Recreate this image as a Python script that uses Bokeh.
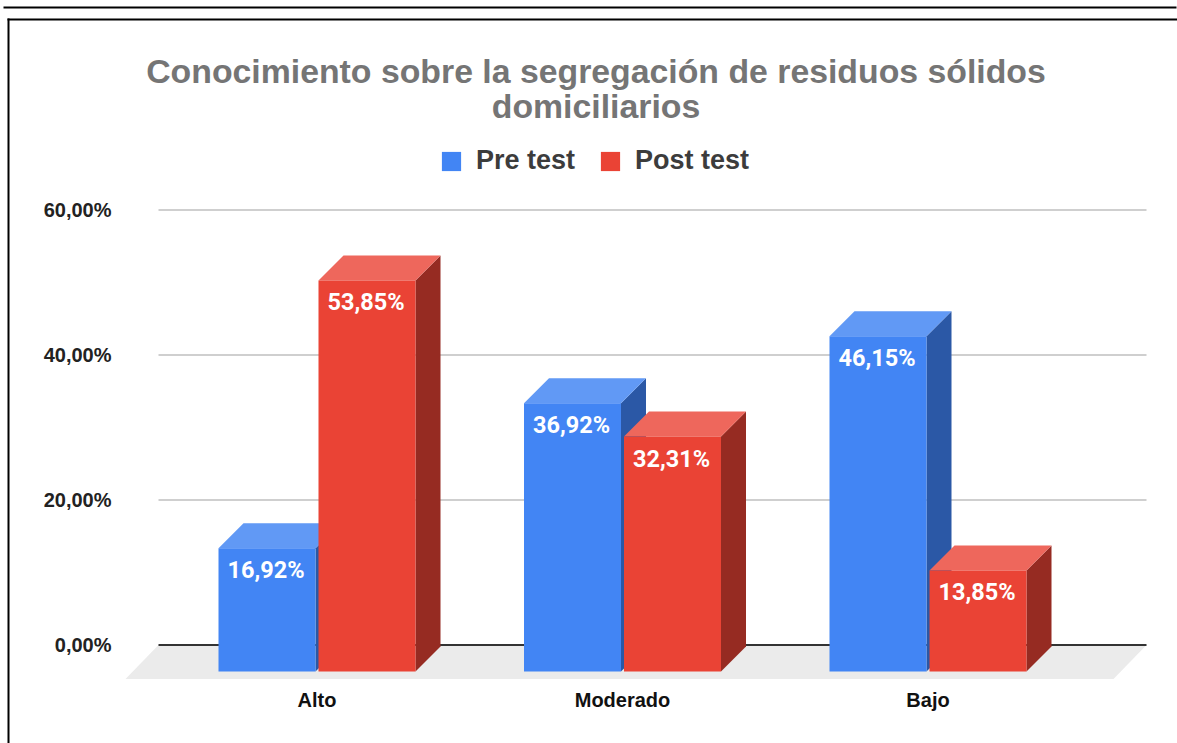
from bokeh.plotting import figure
from bokeh.models import (Range1d, FixedTicker, Legend, LegendItem, BoxAnnotation,
                          ColumnDataSource)
from bokeh.core.properties import value
from bokeh.embed import file_html
from bokeh.resources import INLINE

categories = ["Alto", "Moderado", "Bajo"]
pre_test = [16.92, 36.92, 46.15]
post_test = [53.85, 32.31, 13.85]
y_ticks = [0, 20, 40, 60]
y_tick_labels = ["0,00%", "20,00%", "40,00%", "60,00%"]
title_lines = ["Conocimiento sobre la segregación de residuos sólidos", "domiciliarios"]

W, H = 1177, 743
X0, XS = 316.5, 305.5      # px of group 0, px per group
Y0, YS = 644.5, 7.25       # px of value 0, px per unit
SANS = "Liberation Sans"

def ux(px):
    return px / XS
def uy(px):
    return px / YS
def dx(px):
    return (px - X0) / XS
def dy(px):
    return (Y0 - px) / YS

p = figure(width=W, height=H, output_backend="svg", toolbar_location=None,
           x_range=Range1d(dx(0), dx(W)), y_range=Range1d(dy(H), dy(0)),
           min_border=0, outline_line_color=None,
           background_fill_color="white", border_fill_color="white")
p.grid.visible = False

# axes: drawn in the plot area at a fixed place, so that the frame fills the figure
p.yaxis.fixed_location = dx(125)
p.yaxis.ticker = FixedTicker(ticks=y_ticks)
p.yaxis.major_label_overrides = dict(zip(y_ticks, y_tick_labels))
p.yaxis.axis_line_color = None
p.yaxis.major_tick_line_color = None
p.yaxis.minor_tick_line_color = None
p.yaxis.major_label_standoff = 8
p.yaxis.major_label_text_font = SANS
p.yaxis.major_label_text_font_style = "bold"
p.yaxis.major_label_text_font_size = "20px"
p.yaxis.major_label_text_color = "#222222"

p.xaxis.fixed_location = dy(676)
p.xaxis.ticker = FixedTicker(ticks=list(range(len(categories))))
p.xaxis.major_label_overrides = dict(enumerate(categories))
p.xaxis.axis_line_color = None
p.xaxis.major_tick_line_color = None
p.xaxis.minor_tick_line_color = None
p.xaxis.major_label_standoff = 6
p.xaxis.major_label_text_font = SANS
p.xaxis.major_label_text_font_style = "bold"
p.xaxis.major_label_text_font_size = "20px"
p.xaxis.major_label_text_color = "#111111"

# gridlines and floor
floor_depth_x, floor_depth_y = ux(33), uy(34)
p.patch([dx(158), dx(1146), dx(1146) - floor_depth_x, dx(158) - floor_depth_x],
        [0, 0, -floor_depth_y, -floor_depth_y], fill_color="#ebebeb", line_color=None)
for t in y_ticks:
    p.segment(dx(158), t, dx(1146), t, line_width=2,
              line_color="#333333" if t == 0 else "#cfcfcf")

# 3D bars
half_w = ux(48.5)
offset = ux(50)
depth_x, depth_y = ux(25), uy(25)
base_shift = uy(26.5)
top_shift = uy(25.8)

def draw_series(vals, sign, front, top, side):
    xc = [i + sign * offset for i in range(len(vals))]
    base = -base_shift
    tops = [v - top_shift for v in vals]
    p.patches([[x + half_w, x + half_w + depth_x, x + half_w + depth_x, x + half_w] for x in xc],
              [[base, base + depth_y, t + depth_y, t] for t in tops],
              fill_color=side, line_color=None)
    p.patches([[x - half_w, x + half_w, x + half_w + depth_x, x - half_w + depth_x] for x in xc],
              [[t, t, t + depth_y, t + depth_y] for t in tops],
              fill_color=top, line_color=None)
    r = p.vbar(x=xc, width=2 * half_w, bottom=base, top=tops,
               fill_color=front, line_color=None)
    return r, xc, tops

r_pre, x_pre, t_pre = draw_series(pre_test, -1, "#4285f4", "#6199f5", "#2b58a6")
r_post, x_post, t_post = draw_series(post_test, 1, "#ea4335", "#ee675c", "#962b22")

fmt = lambda v: f"{v:.2f}".replace(".", ",") + "%"
lab_x = [x - ux(1) for x in x_pre + x_post]
lab_y = [t - uy(22) for t in t_pre + t_post]
lab_t = [fmt(v) for v in pre_test + post_test]
p.text(lab_x, lab_y, text=lab_t, text_color="white", text_align="center",
       text_baseline="middle", text_font=value("Roboto"), text_font_style="bold",
       text_font_size="23.5px")

# title
src = ColumnDataSource(dict(x=[dx(595.5)] * 2, y=[dy(70.5), dy(105.5)], t=title_lines))
p.text("x", "y", text="t", source=src, text_color="#757575", text_align="center",
       text_baseline="middle", text_font=value(SANS), text_font_style="bold",
       text_font_size="33.8px")

# legend
legend = Legend(items=[LegendItem(label="Pre test", renderers=[r_pre]),
                       LegendItem(label="Post test", renderers=[r_post])],
                orientation="horizontal", location=(439, H - 176),
                glyph_width=24, glyph_height=24, label_standoff=13, spacing=23,
                padding=0, margin=0, background_fill_alpha=0, border_line_color=None,
                label_text_font=SANS, label_text_font_style="bold",
                label_text_font_size="27px", label_text_color="#3c3c3c")
p.add_layout(legend, "center")

# black frame lines of the picture
for l, r, t, b in [(3, 1176, 6, 8), (7, W, 18, 20), (7, 9, 18, H)]:
    p.add_layout(BoxAnnotation(left=l, right=r, top=t, bottom=b, left_units="canvas",
                               right_units="canvas", top_units="canvas", bottom_units="canvas",
                               fill_color="black", fill_alpha=1, line_color=None))

open("out.html", "w").write(file_html(p, INLINE))
